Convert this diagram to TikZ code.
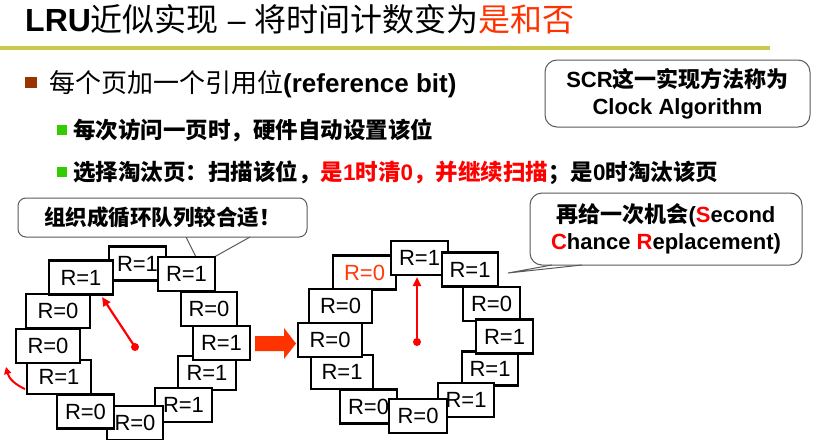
\documentclass[tikz,border=0pt]{standalone}
\usepackage{fontspec}
\setmainfont{Liberation Sans}
\newfontfamily\cjk{Noto Sans CJK SC}
\usetikzlibrary{arrows.meta}

\definecolor{titlered}{RGB}{255,51,0}
\definecolor{ringred}{RGB}{255,60,10}
\definecolor{handred}{RGB}{255,0,0}
\definecolor{rulecol}{RGB}{201,201,79}
\definecolor{brownbul}{RGB}{153,51,0}
\definecolor{greenbul}{RGB}{51,204,0}
\definecolor{notegray}{RGB}{90,90,90}
\definecolor{bigarrow}{RGB}{255,51,0}

\newcommand\zh[1]{{\cjk #1}}

\tikzset{
  pagebox/.style={draw=black, line width=2.9pt, fill=white, inner sep=0pt,
    minimum height=34pt, font=\fontsize{22}{22}\selectfont},
  note/.style={draw=notegray, line width=1pt, rounded corners=9pt, fill=white,
    inner sep=0pt, align=center, font=\fontsize{22}{27}\selectfont\bfseries},
  tailline/.style={draw=notegray, line width=1pt},
  hub/.style={circle, fill=handred, inner sep=0pt, minimum size=8pt},
  hand/.style={draw=handred, line width=2.2pt, -{Triangle[length=9pt,width=8pt]}},
  bullet/.style={inner sep=0pt, minimum size=#1},
  textline/.style={anchor=base west, inner sep=0pt},
}

\begin{document}
\begin{tikzpicture}[x=1pt,y=-1pt]
\useasboundingbox[fill=white] (0,0) rectangle (819,439);

% heading and rule
\node[textline, font=\fontsize{32}{32}\selectfont] (title) at (25,31)
  {\textbf{LRU}\zh{近似实现} \textendash{} \zh{将时间计数变为}\textcolor{titlered}{\zh{是和否}}};
\draw[rulecol, line width=4pt] (0,48) -- (770,48);

% bullet list
\node[bullet=11.5pt, fill=brownbul] (b1) at (31,82.5) {};
\node[textline, font=\fontsize{26}{26}\selectfont] (t1) at (49,92)
  {\zh{每个页加一个引用位}\textbf{(reference bit)}};
\node[bullet=10pt, fill=greenbul] (b2) at (61.5,130) {};
\node[textline, font=\fontsize{22.5}{22.5}\selectfont\bfseries] (t2) at (73,138.5)
  {\zh{每次访问一页时，硬件自动设置该位}};
\node[bullet=10pt, fill=greenbul] (b3) at (61.5,172) {};
\node[textline, font=\fontsize{22.5}{22.5}\selectfont\bfseries] (t3) at (73,180.5)
  {\zh{选择淘汰页：扫描该位，}\textcolor{handred}{\zh{是}1\zh{时清}0\zh{，并继续扫描}}\zh{；是}0\zh{时淘汰该页}};

% note: clock algorithm
\node[note, rounded corners=12pt, minimum width=265pt, minimum height=67pt] (scr) at (677.5,93.5)
  {SCR\zh{这一实现方法称为}\\Clock Algorithm};

% note: circular queue, with its tail
\node[note, rounded corners=8pt, minimum width=289pt, minimum height=39pt,
  font=\fontsize{21.5}{21.5}\selectfont\bfseries] (queue) at (162.5,217.5)
  {\zh{组织成循环队列较合适！}};
\coordinate (qa) at (186,237);
\coordinate (qtip) at (200,265);
\coordinate (qb) at (250,237);
\fill[white] ([yshift=-1.5pt]qa) -- (qtip) -- ([yshift=-1.5pt]qb) -- cycle;
\draw[tailline] (qa) -- (qtip) -- (qb);

% note: second chance, with its tail
\node[note, rounded corners=12pt, minimum width=272pt, minimum height=72pt] (sc) at (666,229)
  {\zh{再给一次机会}(\textcolor{handred}{S}econd\\\textcolor{handred}{C}hance \textcolor{handred}{R}eplacement)};
\coordinate (sa) at (552,265);
\coordinate (stip) at (508,273);
\coordinate (sb) at (582,265);
\fill[white] ([yshift=-1.5pt]sa) -- (stip) -- ([yshift=-1.5pt]sb) -- cycle;
\draw[tailline] (sa) -- (stip) -- (sb);

% first clock: pages in the ring
\node[pagebox, minimum width=57pt] (L1) at (137.5,263.5) {R=1};
\node[pagebox, minimum width=57pt] (L2) at (186.5,274) {R=1};
\node[pagebox, minimum width=56pt] (L3) at (209,309) {R=0};
\node[pagebox, minimum width=58pt] (L5) at (207,373) {R=1};
\node[pagebox, minimum width=57pt] (L4) at (221.5,343) {R=1};
\node[pagebox, minimum width=57pt] (L6) at (183.5,405) {R=1};
\node[pagebox, minimum width=56pt] (L7) at (135,423) {R=0};
\node[pagebox, minimum width=57pt] (L8) at (85.5,411.5) {R=0};
\node[pagebox, minimum width=64pt] (L9) at (59,377) {R=1};
\node[pagebox, minimum width=64pt] (L10) at (48,346) {R=0};
\node[pagebox, minimum width=64pt] (L11) at (58,311) {R=0};
\node[pagebox, minimum width=64pt] (L12) at (81,277.5) {R=1};

% first clock: hand and sweep direction
\node[hub] (Lhub) at (135,347) {};
\coordinate (Ltip) at (102,297);
\draw[hand] (Lhub.center) -- (Ltip);
\coordinate (Lsweep0) at (25,389);
\coordinate (Lsweep1) at (6,367);
\draw[draw=handred, line width=2pt, -{Triangle[length=7pt,width=7pt]}]
  (Lsweep0) .. controls (16,385) and (9,379) .. (Lsweep1);

% transition arrow
\fill[bigarrow] (255,336) -- (284,336) -- (284,328) -- (296,343.5) -- (284,359)
  -- (284,351) -- (255,351) -- cycle;

% second clock: pages in the ring
\node[pagebox, minimum width=63pt, text=ringred] (R12) at (364.5,272.5) {R=0};
\node[pagebox, minimum width=57pt] (R1) at (419.5,258) {R=1};
\node[pagebox, minimum width=56pt] (R2) at (470,269.5) {R=1};
\node[pagebox, minimum width=57pt] (R3) at (491.5,304) {R=0};
\node[pagebox, minimum width=56pt] (R5) at (490,368.5) {R=1};
\node[pagebox, minimum width=57pt] (R4) at (504.5,336.5) {R=1};
\node[pagebox, minimum width=56pt] (R6) at (466,400) {R=1};
\node[pagebox, minimum width=57pt] (R8) at (368.5,406.5) {R=0};
\node[pagebox, minimum width=58pt] (R7) at (418,416) {R=0};
\node[pagebox, minimum width=62pt] (R9) at (342,372) {R=1};
\node[pagebox, minimum width=64pt] (R10) at (330,340) {R=0};
\node[pagebox, minimum width=63pt] (R11) at (340.5,306) {R=0};

% second clock: hand
\node[hub] (Rhub) at (417,342) {};
\coordinate (Rtip) at (417,277);
\draw[hand] (Rhub.center) -- (Rtip);
\end{tikzpicture}
\end{document}
